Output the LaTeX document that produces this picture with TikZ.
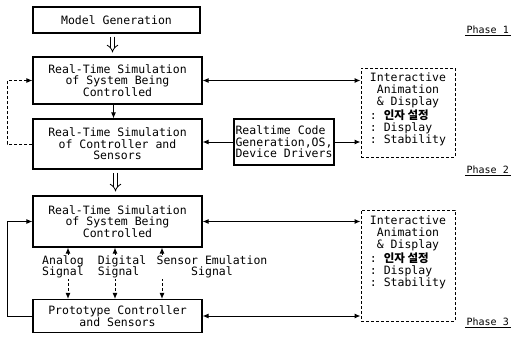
\documentclass[tikz,border=0pt]{standalone}
\usepackage{fontspec}
\setmonofont{DejaVu Sans Mono}
\newfontfamily\krfont{Noto Sans CJK KR}
\usetikzlibrary{arrows.meta,positioning}

\newcommand{\animtext}{%
  \begin{tabular}{@{}l@{}}
    \multicolumn{1}{@{}c@{}}{Interactive}\\
    \multicolumn{1}{@{}c@{}}{Animation}\\
    \multicolumn{1}{@{}c@{}}{\& Display}\\
    : {\krfont\bfseries 인자 설정}\\
    : Display\\
    : Stability
  \end{tabular}}

\tikzset{
  box/.style={draw, line width=1.1pt, align=center, inner sep=0pt},
  ibox/.style={draw, line width=1pt, densely dashed, inner sep=0pt},
  conn/.style={line width=1pt, -{Latex[length=6pt,width=5pt]}},
  twoway/.style={line width=1pt, {Latex[length=6pt,width=5pt]}-{Latex[length=6pt,width=5pt]}},
  flow/.style={line width=0.8pt, double, double distance=3.2pt, -Implies, shorten <=3pt, shorten >=4pt},
  sigtext/.style={fill=white, align=left, inner sep=1pt},
  phase/.style={font=\ttfamily\fontsize{10}{10}\selectfont, inner sep=1pt, anchor=east}
}

\begin{document}
\begin{tikzpicture}[x=1pt,y=-1pt,font=\ttfamily\fontsize{11.5}{11.5}\selectfont]
  \useasboundingbox (0,0) rectangle (511,340);
  % Phase 1
  \node[box, minimum width=167, minimum height=26] (model) at (116.5,20) {Model Generation};
  \node[box, minimum width=169, minimum height=47] (sys1) at (117.5,80.5) {Real-Time Simulation\\of System Being\\Controlled};
  \node[ibox, minimum width=94, minimum height=89] (int1) at (408,112.5) {};
  \node[below=5pt of int1.north, inner sep=0pt] (int1txt) {\animtext};
  \node[phase] (ph1) at (510,30) {Phase 1};
  \draw[line width=1pt] (ph1.south west) -- ([xshift=1pt]ph1.south east);
  \draw[flow] ([xshift=-4pt]model.south) -- ([xshift=-4pt]model.south |- sys1.north);
  \draw[twoway] (sys1.east) -- (sys1.east -| int1.west);
  % Phase 2
  \node[box, minimum width=169, minimum height=50] (ctl) at (117.5,144) {Real-Time Simulation\\of Controller and\\Sensors};
  \node[box, align=left, minimum width=100, minimum height=46] (code) at (284,142) {Realtime Code\\Generation,OS,\\Device Drivers};
  \node[phase] (ph2) at (510,170) {Phase 2};
  \draw[line width=1pt] (ph2.south west) -- ([xshift=1pt]ph2.south east);
  \draw[conn] ([xshift=-4pt]sys1.south) -- ([xshift=-4pt]sys1.south |- ctl.north);
  \draw[conn] (code.west) -- (code.west -| ctl.east);
  \draw[conn] (code.east) -- (code.east -| int1.west);
  \draw[conn, densely dashed] (ctl.west) -- ++(-25,0) |- (sys1.west);
  % Phase 3
  \node[box, minimum width=169, minimum height=51] (sys2) at (117.5,221.5) {Real-Time Simulation\\of System Being\\Controlled};
  \node[box, minimum width=169, minimum height=33] (proto) at (117.5,316) {Prototype Controller\\and Sensors};
  \node[ibox, minimum width=94, minimum height=111] (int2) at (408,265.5) {};
  \node[below=6pt of int2.north, inner sep=0pt] (int2txt) {\animtext};
  \node[phase] (ph3) at (510,322) {Phase 3};
  \draw[line width=1pt] (ph3.south west) -- ([xshift=1pt]ph3.south east);
  \draw[flow] ([xshift=-2pt]ctl.south) -- ([xshift=-2pt]ctl.south |- sys2.north);
  \draw[twoway] (sys2.east) -- (sys2.east -| int2.west);
  \draw[twoway] (proto.east) -- (proto.east -| int2.west);
  \draw[conn] (proto.west) -- ++(-25,0) |- (sys2.west);
  \foreach \x in {68,115,162}
    \draw[twoway, densely dashed] (sys2.south -| \x,0) -- (proto.north -| \x,0);
  \node[sigtext, align=center] (analog) at (63,267) {Analog\\Signal};
  \node[sigtext] (digital) at (122,267) {Digital\\Signal};
  \node[sigtext, align=center] (sensor) at (212,267) {Sensor Emulation\\Signal};
\end{tikzpicture}
\end{document}
